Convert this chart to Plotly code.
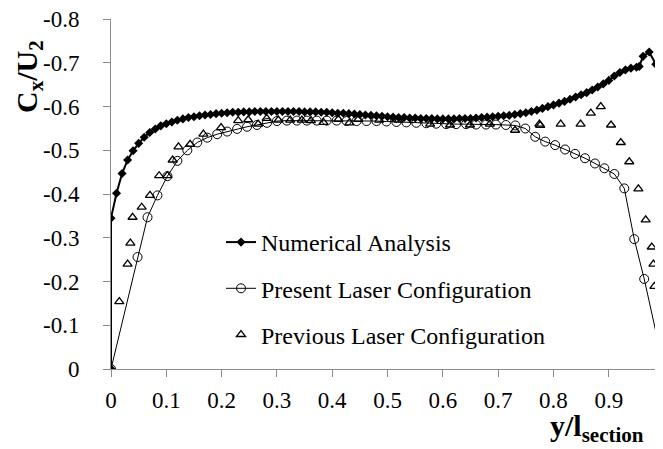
import plotly.graph_objects as go

# ---------------- data ----------------
num_x = [0.0, 0.0, 0.01, 0.02, 0.03, 0.04, 0.05, 0.06, 0.07, 0.08, 0.09,
         0.10, 0.11, 0.12, 0.13, 0.14, 0.15, 0.16, 0.17, 0.18, 0.19,
         0.20, 0.21, 0.22, 0.23, 0.24, 0.25, 0.26, 0.27, 0.28, 0.29,
         0.30, 0.31, 0.32, 0.33, 0.34, 0.35, 0.36, 0.37, 0.38, 0.39,
         0.40, 0.41, 0.42, 0.43, 0.44, 0.45, 0.46, 0.47, 0.48, 0.49,
         0.50, 0.51, 0.52, 0.53, 0.54, 0.55, 0.56, 0.57, 0.58, 0.59,
         0.60, 0.61, 0.62, 0.63, 0.64, 0.65, 0.66, 0.67, 0.68, 0.69,
         0.70, 0.71, 0.72, 0.73, 0.74, 0.75, 0.76, 0.77, 0.78, 0.79,
         0.80, 0.81, 0.82, 0.83, 0.84, 0.85, 0.86, 0.87, 0.88, 0.89,
         0.90, 0.91, 0.92, 0.93, 0.94, 0.95, 0.955, 0.962, 0.973, 0.985,
         0.994, 1.0]
num_y = [0.0, -0.345, -0.402, -0.447, -0.478, -0.499, -0.516, -0.530, -0.541, -0.549, -0.556,
         -0.561, -0.565, -0.569, -0.572, -0.575, -0.577, -0.579, -0.581, -0.582, -0.584,
         -0.585, -0.586, -0.587, -0.587, -0.588, -0.588, -0.589, -0.589, -0.589, -0.589,
         -0.589, -0.589, -0.589, -0.589, -0.589, -0.588, -0.588, -0.588, -0.587, -0.587,
         -0.586, -0.585, -0.585, -0.584, -0.583, -0.582, -0.581, -0.580, -0.579, -0.578,
         -0.577, -0.576, -0.575, -0.575, -0.574, -0.574, -0.573, -0.573, -0.573, -0.572,
         -0.572, -0.572, -0.572, -0.573, -0.573, -0.573, -0.574, -0.575, -0.576, -0.577,
         -0.578, -0.579, -0.580, -0.582, -0.584, -0.586, -0.589, -0.592, -0.596, -0.600,
         -0.604, -0.608, -0.612, -0.617, -0.622, -0.627, -0.632, -0.638, -0.645, -0.652,
         -0.660, -0.670, -0.678, -0.684, -0.688, -0.690, -0.692, -0.715, -0.725, -0.697,
         -0.567, 0.0]

present_x = [0.0, 0.048, 0.066, 0.084, 0.102, 0.120, 0.138, 0.156, 0.174, 0.192,
             0.210, 0.228, 0.246, 0.264, 0.282, 0.300, 0.318, 0.336, 0.354, 0.372,
             0.390, 0.408, 0.426, 0.444, 0.462, 0.480, 0.498, 0.516, 0.534, 0.552,
             0.570, 0.588, 0.606, 0.624, 0.642, 0.660, 0.678, 0.696, 0.714, 0.731,
             0.749, 0.767, 0.785, 0.803, 0.821, 0.839, 0.857, 0.875, 0.892, 0.910,
             0.928, 0.946, 0.964, 1.0]
present_y = [0.0, -0.256, -0.347, -0.397, -0.441, -0.476, -0.500, -0.518, -0.529, -0.537,
             -0.543, -0.549, -0.554, -0.558, -0.563, -0.567, -0.568, -0.568, -0.568, -0.568,
             -0.568, -0.568, -0.567, -0.567, -0.567, -0.567, -0.566, -0.565, -0.564, -0.563,
             -0.562, -0.561, -0.560, -0.560, -0.560, -0.559, -0.559, -0.559, -0.558, -0.557,
             -0.550, -0.531, -0.520, -0.512, -0.502, -0.492, -0.482, -0.470, -0.459, -0.446,
             -0.413, -0.297, -0.206, 0.0]

previous_x = [0.0, 0.015, 0.030, 0.035, 0.039, 0.0555, 0.0705, 0.087, 0.102, 0.1115,
              0.122, 0.143, 0.167, 0.199, 0.230, 0.248, 0.266, 0.2815, 0.3025, 0.324,
              0.345, 0.3615, 0.384, 0.411, 0.431, 0.447, 0.485, 0.520, 0.577, 0.613,
              0.649, 0.685, 0.7305, 0.7745, 0.776, 0.813, 0.849, 0.8675, 0.8855, 0.904,
              0.9217, 0.937, 0.9535, 0.9667, 0.9777, 0.9807, 0.9825, 0.9928]
previous_y = [0.0, -0.154, -0.240, -0.288, -0.347, -0.370, -0.397, -0.442, -0.442, -0.478,
              -0.508, -0.514, -0.537, -0.552, -0.568, -0.570, -0.560, -0.573, -0.569, -0.569,
              -0.569, -0.568, -0.564, -0.571, -0.563, -0.571, -0.569, -0.569, -0.560, -0.558,
              -0.558, -0.560, -0.546, -0.560, -0.557, -0.560, -0.560, -0.585, -0.600, -0.558,
              -0.518, -0.474, -0.412, -0.341, -0.279, -0.240, -0.189, -0.115]

series_names = ["Numerical Analysis", "Present Laser Configuration", "Previous Laser Configuration"]

x_tick_vals = [0.0, 0.1, 0.2, 0.3, 0.4, 0.5, 0.6, 0.7, 0.8, 0.9, 1.0]
x_tick_text = ["0", "0.1", "0.2", "0.3", "0.4", "0.5", "0.6", "0.7", "0.8", "0.9", "1"]
y_tick_vals = [-0.8, -0.7, -0.6, -0.5, -0.4, -0.3, -0.2, -0.1, 0.0]
y_tick_text = ["-0.8", "-0.7", "-0.6", "-0.5", "-0.4", "-0.3", "-0.2", "-0.1", "0"]

x_title = "<b>y/l<sub>section</sub></b>"
y_title = "<b>C<sub>x</sub>/U<sub>2</sub></b>"

# ---------------- figure ----------------
FONT = "Liberation Serif, Times New Roman, serif"
OFF = 8                      # default page (body) margin of the html page
W, H = 663 - OFF, 449 - OFF
ML, MR, MT, MB = 111 - OFF, 0, 19 - OFF, 80
plot_h = H - MT - MB
plot_w = W - ML - MR

fig = go.Figure()
fig.add_trace(go.Scatter(
    x=num_x, y=num_y, name=series_names[0], mode="lines+markers", legendgroup="a",
    line=dict(color="black", width=2),
    marker=dict(symbol="diamond", size=7, color="black"),
))
fig.add_trace(go.Scatter(
    x=present_x, y=present_y, name=series_names[1], mode="lines+markers", legendgroup="b",
    line=dict(color="black", width=1),
    marker=dict(symbol="circle-open", size=9, color="black", line=dict(width=1)),
))
fig.add_trace(go.Scatter(
    x=previous_x, y=previous_y, name=series_names[2], mode="markers", legendgroup="c",
    marker=dict(symbol="triangle-up-open", size=8, color="black", line=dict(width=1.3)),
))

# convert window pixel positions (as measured on the reference) to paper coordinates
def wy(p):
    return (H - MB - (p - OFF)) / plot_h

def wx(p):
    return ((p - OFF) - ML) / plot_w

fig.update_layout(
    width=W, height=H,
    margin=dict(l=ML, r=MR, t=MT, b=MB, pad=0, autoexpand=False),
    paper_bgcolor="white", plot_bgcolor="white",
    font=dict(family=FONT, size=22, color="black"),
    showlegend=True,
    legend=dict(
        x=wx(221), y=wy(220), xanchor="left", yanchor="top",
        bgcolor="rgba(0,0,0,0)", borderwidth=0,
        font=dict(family=FONT, size=24, color="black"),
        tracegroupgap=12,
    ),
    xaxis=dict(
        range=[0, 0.998], tickvals=x_tick_vals, ticktext=x_tick_text,
        showgrid=False, zeroline=False, showline=True, linecolor="#8c8c8c", linewidth=1,
        ticks="outside", ticklen=7, tickcolor="#8c8c8c", ticklabelstandoff=3,
        tickfont=dict(family=FONT, size=23, color="black"), automargin=False,
        ticklabeloverflow="allow",
    ),
    yaxis=dict(
        range=[0, -0.8004], tickvals=y_tick_vals, ticktext=y_tick_text,
        showgrid=False, zeroline=False, showline=True, linecolor="#8c8c8c", linewidth=1,
        ticks="outside", ticklen=7, tickcolor="#8c8c8c", ticklabelstandoff=19,
        tickfont=dict(family=FONT, size=23, color="black"), automargin=False,
        ticklabeloverflow="allow",
    ),
    annotations=[
        dict(text=y_title, xref="paper", yref="paper",
             x=wx(29), y=wy(77), xanchor="center", yanchor="middle",
             textangle=-90, showarrow=False, font=dict(family=FONT, size=30, color="black")),
        dict(text=x_title, xref="paper", yref="paper",
             x=wx(597), y=wy(428), xanchor="center", yanchor="middle",
             showarrow=False, font=dict(family=FONT, size=30, color="black")),
    ],
)

fig.write_html("out.html")
